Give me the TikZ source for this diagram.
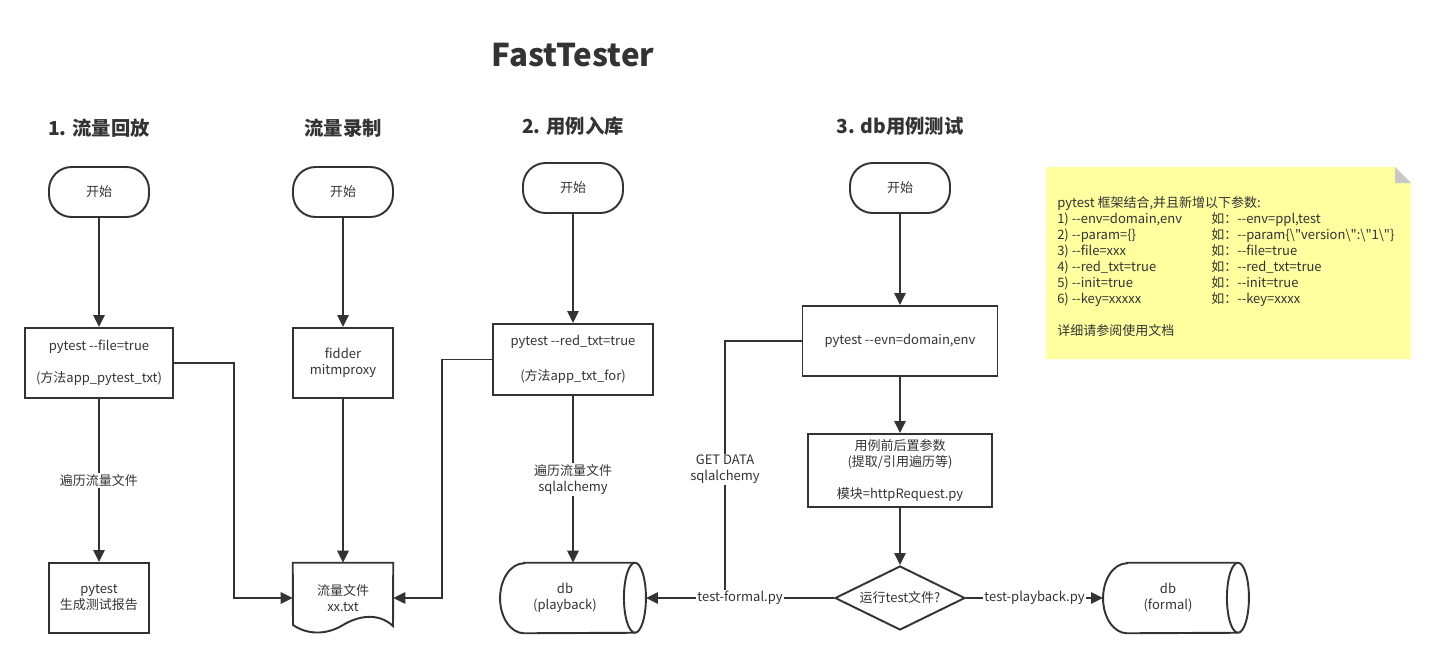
\documentclass[tikz,border=0pt]{standalone}
\usepackage{fontspec}
\setmainfont{Noto Sans CJK SC}[Ligatures=TeXOff]
\usetikzlibrary{shapes.geometric,arrows.meta}
\definecolor{lineC}{HTML}{333333}
\definecolor{noteC}{HTML}{FFFFA0}
\definecolor{foldC}{HTML}{C8C8C8}

\begin{document}
\begin{tikzpicture}[x=0.75pt,y=-0.75pt,
  every node/.style={text=lineC,font=\fontsize{9.75}{12}\selectfont},
  lineSty/.style={draw=lineC,line width=1.45pt},
  arrSty/.style={lineSty,-{Triangle[length=9pt,width=8.5pt]}},
  startSty/.style={lineSty,rounded corners=17pt,minimum width=75pt,minimum height=37.5pt},
  boxSty/.style={lineSty,align=center,inner sep=2pt},
  diaSty/.style={lineSty,diamond,shape aspect=2,inner sep=0pt,minimum width=97.5pt,minimum height=48pt},
  dbSty/.style={align=center,minimum width=109pt,minimum height=52.5pt},
  titleSty/.style={font=\fontsize{14.5}{17}\selectfont\bfseries},
  lblSty/.style={fill=white,align=center,inner sep=1pt}
]
\useasboundingbox (0,0) rectangle (1436,658);

\node[font=\fontsize{23.5}{28}\selectfont\bfseries] (mainTitle) at (573,55) {FastTester};
\node[titleSty] (ttlReplay) at (99,128) {1. 流量回放};
\node[titleSty] (ttlRecord) at (343,128) {流量录制};
\node[titleSty] (ttlStore) at (573,126) {2. 用例入库};
\node[titleSty] (ttlDbTest) at (900,126) {3. db用例测试};

\foreach \n/\x/\y in {st1/99/192, st2/343/192, st3/573/188, st4/900/188}
{
    \node[startSty] (\n) at (\x,\y) {开始};
};

% 1. 流量回放
\node[boxSty,minimum width=111pt,minimum height=52.5pt] (pyFile) at (99,363) {pytest --file=true\\[12pt](方法app\_pytest\_txt)};
\node[boxSty,minimum width=75pt,minimum height=52.5pt] (report) at (99,598) {pytest\\生成测试报告};

% 流量录制
\node[boxSty,minimum width=75pt,minimum height=52.5pt] (proxy) at (343,363) {fidder\\mitmproxy};
\node[align=center,inner sep=0pt,minimum width=75pt,minimum height=52.5pt] (trafTxt) at (343,598) {流量文件\\xx.txt};
\draw[lineSty] (trafTxt.north west) -- (trafTxt.north east) -- (393,626)
  .. controls (378,612) and (358,616) .. (343,625)
  .. controls (325,636) and (306,634) .. (293,625) -- cycle;

% 2. 用例入库
\node[boxSty,minimum width=120pt,minimum height=53.25pt] (redTxt) at (573,359.5) {pytest --red\_txt=true\\[14pt](方法app\_txt\_for)};
\node[dbSty] (dbPlay) at (573,598) {db\hspace*{12pt}\\(playback)\hspace*{12pt}};

% 3. db用例测试
\node[boxSty,minimum width=146.25pt,minimum height=52.5pt] (evn) at (900,341) {pytest --evn=domain,env};
\node[boxSty,minimum width=138pt,minimum height=54.75pt] (hook) at (900,470.5) {用例前后置参数\\(提取/引用遍历等)\\[12pt]模块=httpRequest.py};
\node[diaSty] (runQ) at (900,598) {运行test文件?};
\node[dbSty] (dbForm) at (1176,598) {db\hspace*{12pt}\\(formal)\hspace*{12pt}};

\foreach \n in {dbPlay,dbForm}
{
    \draw[lineSty] ([shift={(24,0)}]\n.north west) -- ([shift={(-11,0)}]\n.north east)
      arc[start angle=-90,end angle=90,x radius=11,y radius=35]
      -- ([shift={(24,0)}]\n.south west)
      arc[start angle=90,end angle=270,x radius=24,y radius=35] -- cycle;
    \draw[lineSty] ([shift={(-11,0)}]\n.north east) arc[start angle=270,end angle=90,x radius=11,y radius=35];
};

\draw[arrSty] (st1) -- (pyFile);
\draw[arrSty] (pyFile) -- node[lblSty]{遍历流量文件} (report);
\draw[arrSty] (st2) -- (proxy);
\draw[arrSty] (proxy) -- (trafTxt);
\draw[arrSty] (pyFile.east) -- ++(60,0) |- (trafTxt.west);
\draw[arrSty] (redTxt.west) -- ++(-50,0) |- (trafTxt.east);
\draw[arrSty] (st3) -- (redTxt);
\draw[arrSty] (redTxt) -- node[lblSty]{遍历流量文件\\sqlalchemy} (dbPlay);
\draw[arrSty] (st4) -- (evn);
\draw[arrSty] (evn) -- (hook);
\draw[arrSty] (hook) -- (runQ);

\coordinate (getJoin) at (725,598);
\draw[lineSty] (evn.west) -| node[pos=0.75,lblSty]{GET DATA\\sqlalchemy} (getJoin);
\draw[arrSty] (runQ) -- node[lblSty]{test-formal.py} (dbPlay);
\draw[arrSty] (runQ) -- node[lblSty]{test-playback.py} (dbForm);

% note
\fill[noteC] (1046,167) -- (1395,167) -- (1411,183) -- (1411,359) -- (1046,359) -- cycle;
\fill[foldC] (1395,167) -- (1395,183) -- (1411,183) -- cycle;
\node[anchor=north west,inner sep=0pt,align=left] (noteTxt) at (1057,196) {%
\begin{tabular}{@{}p{115.5pt}@{}l@{}}
\multicolumn{2}{@{}l@{}}{pytest 框架结合,并且新增以下参数:}\\
1) --env=domain,env & 如：--env=ppl,test\\
2) --param=\{\} & 如：--param\{\textbackslash"version\textbackslash":\textbackslash"1\textbackslash"\}\\
3) --file=xxx & 如：--file=true\\
4) --red\_txt=true & 如：--red\_txt=true\\
5) --init=true & 如：--init=true\\
6) --key=xxxxx & 如：--key=xxxx\\
 & \\
\multicolumn{2}{@{}l@{}}{详细请参阅使用文档}
\end{tabular}};
\end{tikzpicture}
\end{document}
